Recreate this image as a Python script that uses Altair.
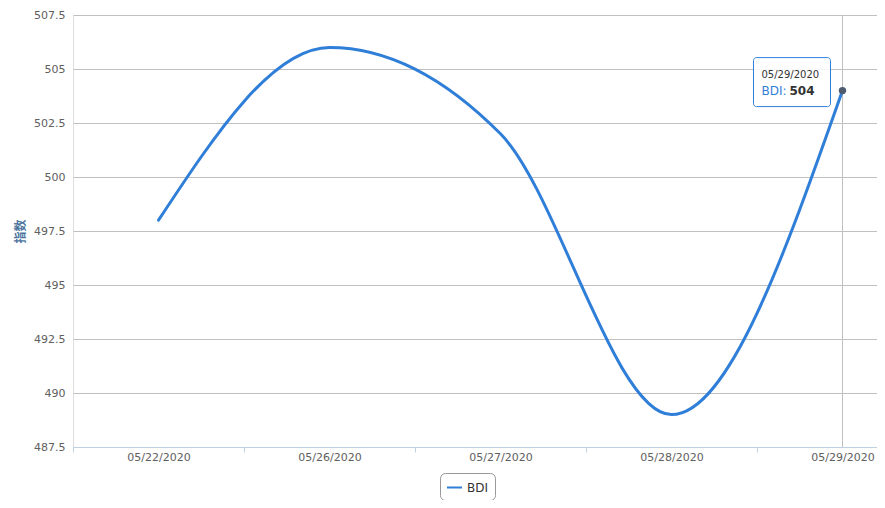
import altair as alt
import pandas as pd

# ---- data ----
dates = ["05/22/2020", "05/26/2020", "05/27/2020", "05/28/2020", "05/29/2020"]
values = [498, 506, 502, 489, 504]
series_name = "BDI"
y_ticks = [487.5, 490, 492.5, 495, 497.5, 500, 502.5, 505, 507.5]
y_title = "指数"
hover_index = 4

LINE_COLOR = "#2f7ed8"
FONT = "DejaVu Sans"

df = pd.DataFrame({
    "idx": list(range(len(dates))),
    "date": dates,
    "value": values,
    "series": [series_name] * len(dates),
})
hover = df.iloc[[hover_index]].copy()

label_array = "[" + ",".join("'" + d + "'" for d in dates) + "]"
x_label_expr = "datum.value % 1 === 0 ? " + label_array + "[datum.value] : ''"
x_values = sorted([i - 0.5 for i in range(len(dates))] + list(range(len(dates))))

x_scale = alt.Scale(domain=[-0.5, 4.2018], nice=False, zero=False)
y_scale = alt.Scale(domain=[y_ticks[0], y_ticks[-1]], nice=False, zero=False)

x_enc = alt.X(
    "idx:Q",
    scale=x_scale,
    axis=alt.Axis(
        values=x_values,
        labelExpr=x_label_expr,
        labelOverlap=False,
        labelFlush=False,
        grid=False,
        domainColor="#c0d0e0",
        tickColor="#c0d0e0",
        tickSize=5,
        tickOpacity={"condition": {"test": "datum.value % 1 !== 0", "value": 1}, "value": 0},
        labelPadding=-1,
        labelColor="#606060",
        labelFontSize=11,
        labelFont=FONT,
        title=None,
    ),
)
y_enc = alt.Y(
    "value:Q",
    scale=y_scale,
    axis=alt.Axis(
        values=y_ticks,
        format=".4~g",
        domain=False,
        ticks=False,
        gridColor="#c0c0c0",
        labelPadding=8,
        labelColor="#606060",
        labelFontSize=11,
        labelFont=FONT,
        title=y_title,
        titleColor="#4d759e",
        titleFontSize=12,
        titleFontWeight="bold",
        titleFont="Noto Sans CJK SC",
        titlePadding=6,
    ),
)

crosshair = alt.Chart(hover).mark_rule(color="#c0c0c0", strokeWidth=1).encode(x=x_enc)

line = alt.Chart(df).mark_line(interpolate="monotone", strokeWidth=3, strokeCap="round").encode(
    x=x_enc,
    y=y_enc,
    color=alt.Color(
        "series:N",
        scale=alt.Scale(domain=[series_name], range=[LINE_COLOR]),
        legend=alt.Legend(
            orient="none",
            legendX=367,
            legendY=458,
            direction="horizontal",
            title=None,
            strokeColor="#999999",
            fillColor="white",
            cornerRadius=5,
            padding=6,
            symbolType="stroke",
            symbolStrokeWidth=2,
            symbolSize=225,
            labelFontSize=12,
            labelColor="#333333",
            labelFont=FONT,
        ),
    ),
)

point = alt.Chart(hover).mark_point(filled=True, size=55, color="#4f5b6e", opacity=1).encode(
    x=x_enc, y=y_enc
)

box = alt.Chart(hover).mark_rect(
    xOffset=-89, x2Offset=-12, yOffset=-33, y2Offset=16,
    fill="white", fillOpacity=0.9, stroke=LINE_COLOR, strokeWidth=1, cornerRadius=3,
).encode(x=x_enc, x2="idx:Q", y=y_enc, y2="value:Q")

tip_date = alt.Chart(hover).mark_text(
    align="left", baseline="middle", dx=-81, dy=-16, fontSize=10, color="#333333", font=FONT
).encode(x=x_enc, y=y_enc, text="date:N")

tip_name = alt.Chart(hover).transform_calculate(lbl="datum.series + ':'").mark_text(
    align="left", baseline="middle", dx=-81, dy=0, fontSize=12, color=LINE_COLOR, font=FONT
).encode(x=x_enc, y=y_enc, text="lbl:N")

tip_value = alt.Chart(hover).mark_text(
    align="left", baseline="middle", dx=-53, dy=0, fontSize=12, fontWeight="bold",
    color="#333333", font=FONT
).encode(x=x_enc, y=y_enc, text="value:Q")

chart = alt.layer(crosshair, line, point, box, tip_date, tip_name, tip_value).properties(
    width=804,
    height=432,
    autosize=alt.AutoSizeParams(type="none"),
    padding={"left": 65, "top": 7, "right": 0, "bottom": 53},
).configure_view(strokeOpacity=0).configure(font=FONT)

chart.save("out.html", embed_options={"renderer": "svg", "actions": False})
